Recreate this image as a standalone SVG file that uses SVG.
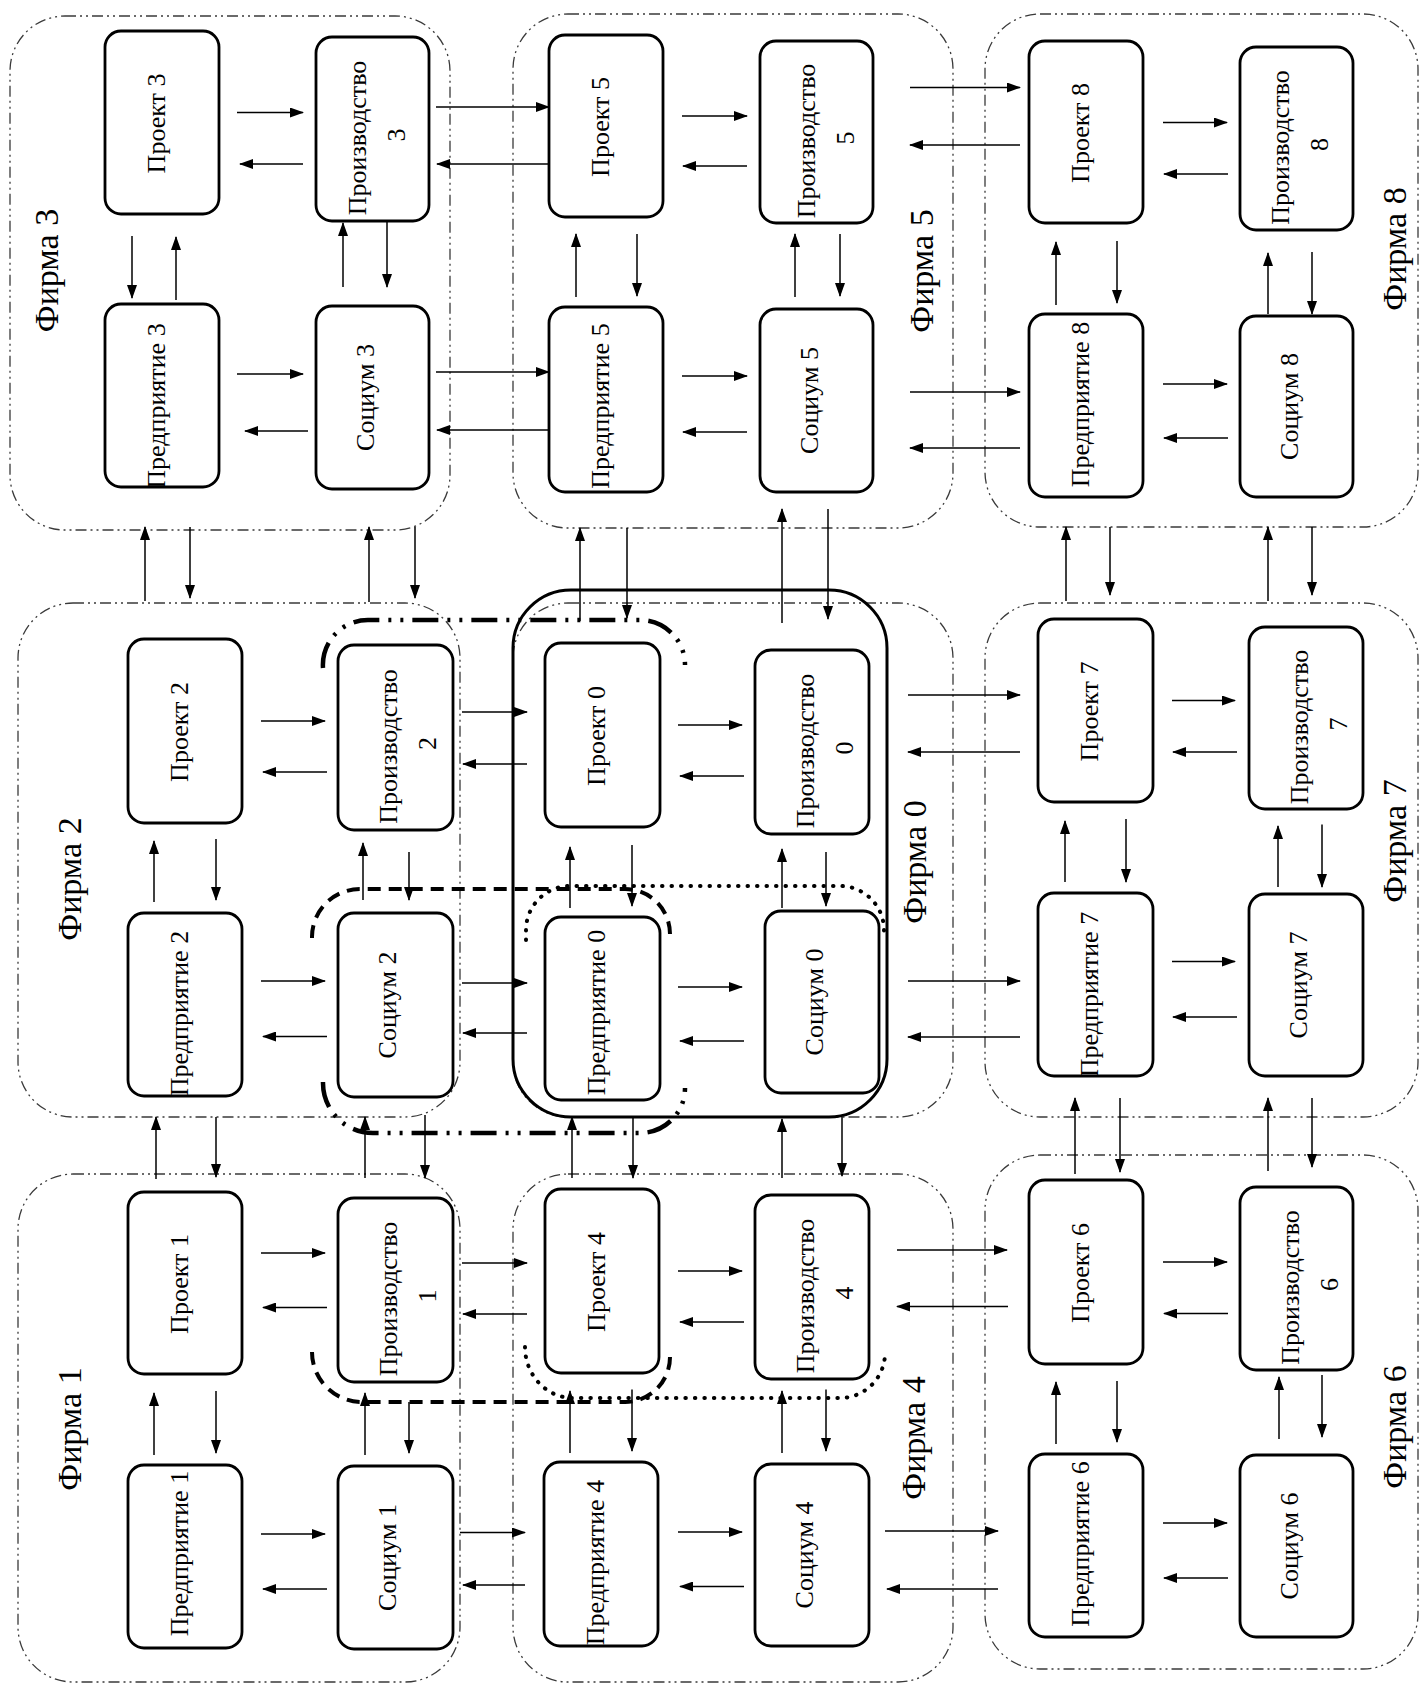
<svg xmlns="http://www.w3.org/2000/svg" width="1420" height="1684" viewBox="0 0 1420 1684">
<defs>
<style>
.firm{fill:none;stroke:#3a3a3a;stroke-width:1.3;stroke-dasharray:11 4 2 4 2 4}
.node rect{fill:#fff;stroke:#000;stroke-width:2.8}
.t{font-family:"Liberation Serif","Times New Roman",serif;font-size:26px;fill:#000;text-anchor:middle}
.ft{font-family:"Liberation Serif","Times New Roman",serif;font-size:34px;fill:#000;text-anchor:middle}
.c line{stroke:#000;stroke-width:1.5;marker-end:url(#ah)}
.thick{fill:none;stroke:#000;stroke-width:3}
.ddot{fill:none;stroke:#000;stroke-width:4.5;stroke-dasharray:26 9 3 9 3 9}
.ldash{fill:none;stroke:#000;stroke-width:4;stroke-dasharray:13 8}
.dots{fill:none;stroke:#000;stroke-width:4;stroke-dasharray:0.5 9;stroke-linecap:round}
</style>
<marker id="ah" markerWidth="14" markerHeight="10" refX="13" refY="5" orient="auto" markerUnits="userSpaceOnUse"><path d="M0,0 L14,5 L0,10 z" fill="#000"/></marker>
</defs>
<rect width="1420" height="1684" fill="#fff"/>

<g id="firms">
<g id="firm3"><rect class="firm" x="10" y="16" width="440" height="514" rx="55"/><text class="ft" transform="translate(58,270.5) rotate(-90)">Фирма 3</text></g>
<g id="firm5"><rect class="firm" x="513" y="14" width="440" height="514" rx="55"/><text class="ft" transform="translate(933,271) rotate(-90)">Фирма 5</text></g>
<g id="firm8"><rect class="firm" x="985" y="14" width="433" height="513" rx="55"/><text class="ft" transform="translate(1406,249) rotate(-90)">Фирма 8</text></g>
<g id="firm2"><rect class="firm" x="18" y="603" width="442" height="514" rx="55"/><text class="ft" transform="translate(81,879) rotate(-90)">Фирма 2</text></g>
<g id="firm0"><rect class="firm" x="513" y="603" width="440" height="514" rx="55"/><rect class="thick" x="513" y="590" width="374" height="527" rx="58"/><text class="ft" transform="translate(926,862) rotate(-90)">Фирма 0</text></g>
<g id="firm7"><rect class="firm" x="985" y="603" width="433" height="514" rx="55"/><text class="ft" transform="translate(1406,841) rotate(-90)">Фирма 7</text></g>
<g id="firm1"><rect class="firm" x="18" y="1174" width="442" height="508" rx="55"/><text class="ft" transform="translate(81,1429) rotate(-90)">Фирма 1</text></g>
<g id="firm4"><rect class="firm" x="513" y="1174" width="440" height="508" rx="55"/><text class="ft" transform="translate(925,1438) rotate(-90)">Фирма 4</text></g>
<g id="firm6"><rect class="firm" x="985" y="1155" width="433" height="514" rx="55"/><text class="ft" transform="translate(1406,1427) rotate(-90)">Фирма 6</text></g>
</g>

<g id="groupings">
<path class="ddot" d="M323,668 A45,45 0 0 1 368,620 H640 A45,45 0 0 1 685,665"/>
<path class="ldash" d="M312,938 A48,48 0 0 1 360,889 H625 A45,45 0 0 1 670,934"/>
<path class="ddot" d="M323,1082 A50,50 0 0 0 373,1133 H640 A45,45 0 0 0 685,1088"/>
<path class="ldash" d="M312,1352 A50,50 0 0 0 362,1402 H625 A45,45 0 0 0 670,1357"/>
<path class="dots" d="M526,940 V930 A44,44 0 0 1 570,886 H840 A44,44 0 0 1 884,930 V936"/>
<path class="dots" d="M525,1347 A48,51 0 0 0 573,1398 H840 A45,45 0 0 0 885,1352"/>
</g>

<g id="nodes">
<g id="proekt3" class="node"><rect x="105" y="31" width="114" height="183" rx="16"/><text class="t" transform="translate(164.5,123.5) rotate(-90)">Проект 3</text></g>
<g id="proizv3" class="node"><rect x="316" y="37" width="113" height="184" rx="16"/><text class="t" transform="translate(366,138) rotate(-90)"><tspan x="0" y="0">Производство</tspan><tspan x="3" y="39">3</tspan></text></g>
<g id="predpr3" class="node"><rect x="105" y="304" width="114" height="183" rx="16"/><text class="t" transform="translate(164.5,406) rotate(-90)">Предприятие 3</text></g>
<g id="socium3" class="node"><rect x="316" y="306" width="113" height="183" rx="16"/><text class="t" transform="translate(374,397.5) rotate(-90)">Социум 3</text></g>

<g id="proekt5" class="node"><rect x="549" y="35" width="114" height="182" rx="16"/><text class="t" transform="translate(608.5,127) rotate(-90)">Проект 5</text></g>
<g id="proizv5" class="node"><rect x="760" y="41" width="113" height="182" rx="16"/><text class="t" transform="translate(815,141) rotate(-90)"><tspan x="0" y="0">Производство</tspan><tspan x="3" y="39">5</tspan></text></g>
<g id="predpr5" class="node"><rect x="549" y="307" width="114" height="185" rx="16"/><text class="t" transform="translate(608.5,406) rotate(-90)">Предприятие 5</text></g>
<g id="socium5" class="node"><rect x="760" y="309" width="113" height="183" rx="16"/><text class="t" transform="translate(818,400.5) rotate(-90)">Социум 5</text></g>

<g id="proekt8" class="node"><rect x="1029" y="41" width="114" height="182" rx="16"/><text class="t" transform="translate(1088.5,133) rotate(-90)">Проект 8</text></g>
<g id="proizv8" class="node"><rect x="1240" y="47" width="113" height="183" rx="16"/><text class="t" transform="translate(1289,147.5) rotate(-90)"><tspan x="0" y="0">Производство</tspan><tspan x="3" y="39">8</tspan></text></g>
<g id="predpr8" class="node"><rect x="1029" y="314" width="114" height="183" rx="16"/><text class="t" transform="translate(1088.5,404.5) rotate(-90)">Предприятие 8</text></g>
<g id="socium8" class="node"><rect x="1240" y="316" width="113" height="181" rx="16"/><text class="t" transform="translate(1298,406.5) rotate(-90)">Социум 8</text></g>

<g id="proekt2" class="node"><rect x="128" y="639" width="114" height="184" rx="16"/><text class="t" transform="translate(187.5,732) rotate(-90)">Проект 2</text></g>
<g id="proizv2" class="node"><rect x="338" y="645" width="115" height="185" rx="16"/><text class="t" transform="translate(397,746.5) rotate(-90)"><tspan x="0" y="0">Производство</tspan><tspan x="3" y="39">2</tspan></text></g>
<g id="predpr2" class="node"><rect x="128" y="913" width="114" height="183" rx="16"/><text class="t" transform="translate(187.5,1013.5) rotate(-90)">Предприятие 2</text></g>
<g id="socium2" class="node"><rect x="338" y="913" width="115" height="184" rx="16"/><text class="t" transform="translate(396,1005) rotate(-90)">Социум 2</text></g>

<g id="proekt0" class="node"><rect x="545" y="643" width="115" height="184" rx="16"/><text class="t" transform="translate(604.5,736) rotate(-90)">Проект 0</text></g>
<g id="proizv0" class="node"><rect x="755" y="650" width="114" height="184" rx="16"/><text class="t" transform="translate(814,751) rotate(-90)"><tspan x="0" y="0">Производство</tspan><tspan x="3" y="39">0</tspan></text></g>
<g id="predpr0" class="node"><rect x="545" y="917" width="115" height="183" rx="16"/><text class="t" transform="translate(604.5,1012.5) rotate(-90)">Предприятие 0</text></g>
<g id="socium0" class="node"><rect x="765" y="911" width="114" height="182" rx="16"/><text class="t" transform="translate(823,1002) rotate(-90)">Социум 0</text></g>

<g id="proekt7" class="node"><rect x="1038" y="619" width="115" height="183" rx="16"/><text class="t" transform="translate(1097.5,711.5) rotate(-90)">Проект 7</text></g>
<g id="proizv7" class="node"><rect x="1249" y="627" width="114" height="182" rx="16"/><text class="t" transform="translate(1308,727) rotate(-90)"><tspan x="0" y="0">Производство</tspan><tspan x="3" y="39">7</tspan></text></g>
<g id="predpr7" class="node"><rect x="1038" y="893" width="115" height="183" rx="16"/><text class="t" transform="translate(1097.5,994.5) rotate(-90)">Предприятие 7</text></g>
<g id="socium7" class="node"><rect x="1249" y="894" width="114" height="182" rx="16"/><text class="t" transform="translate(1307,985) rotate(-90)">Социум 7</text></g>

<g id="proekt1" class="node"><rect x="128" y="1192" width="114" height="182" rx="16"/><text class="t" transform="translate(187.5,1284) rotate(-90)">Проект 1</text></g>
<g id="proizv1" class="node"><rect x="338" y="1198" width="115" height="184" rx="16"/><text class="t" transform="translate(397,1299) rotate(-90)"><tspan x="0" y="0">Производство</tspan><tspan x="3" y="39">1</tspan></text></g>
<g id="predpr1" class="node"><rect x="128" y="1465" width="114" height="183" rx="16"/><text class="t" transform="translate(187.5,1553.5) rotate(-90)">Предприятие 1</text></g>
<g id="socium1" class="node"><rect x="338" y="1466" width="115" height="183" rx="16"/><text class="t" transform="translate(396,1557.5) rotate(-90)">Социум 1</text></g>

<g id="proekt4" class="node"><rect x="545" y="1189" width="114" height="184" rx="16"/><text class="t" transform="translate(604.5,1282) rotate(-90)">Проект 4</text></g>
<g id="proizv4" class="node"><rect x="755" y="1195" width="114" height="184" rx="16"/><text class="t" transform="translate(814,1296) rotate(-90)"><tspan x="0" y="0">Производство</tspan><tspan x="3" y="39">4</tspan></text></g>
<g id="predpr4" class="node"><rect x="544" y="1462" width="114" height="184" rx="16"/><text class="t" transform="translate(603.5,1562.5) rotate(-90)">Предприятие 4</text></g>
<g id="socium4" class="node"><rect x="755" y="1464" width="114" height="182" rx="16"/><text class="t" transform="translate(813,1555) rotate(-90)">Социум 4</text></g>

<g id="proekt6" class="node"><rect x="1029" y="1180" width="114" height="184" rx="16"/><text class="t" transform="translate(1088.5,1273) rotate(-90)">Проект 6</text></g>
<g id="proizv6" class="node"><rect x="1240" y="1187" width="113" height="183" rx="16"/><text class="t" transform="translate(1299,1287.5) rotate(-90)"><tspan x="0" y="0">Производство</tspan><tspan x="3" y="39">6</tspan></text></g>
<g id="predpr6" class="node"><rect x="1029" y="1454" width="114" height="183" rx="16"/><text class="t" transform="translate(1088.5,1544) rotate(-90)">Предприятие 6</text></g>
<g id="socium6" class="node"><rect x="1240" y="1455" width="113" height="182" rx="16"/><text class="t" transform="translate(1298,1546) rotate(-90)">Социум 6</text></g>
</g>

<g id="connectors" class="c">
<line x1="237" y1="112.5" x2="303" y2="112.5"/><line x1="303" y1="164" x2="240" y2="164"/>
<line x1="237" y1="374" x2="303" y2="374"/><line x1="308" y1="431" x2="245" y2="431"/>
<line x1="132" y1="236" x2="132" y2="298"/><line x1="176" y1="300" x2="176" y2="237"/>
<line x1="343" y1="287" x2="343" y2="223"/><line x1="387" y1="221" x2="387" y2="287"/>
<line x1="682" y1="116" x2="747" y2="116"/><line x1="747" y1="166" x2="683" y2="166"/>
<line x1="682" y1="376" x2="747" y2="376"/><line x1="747" y1="432" x2="683" y2="432"/>
<line x1="576" y1="297" x2="576" y2="234"/><line x1="637" y1="234" x2="637" y2="296"/>
<line x1="795" y1="297" x2="795" y2="234"/><line x1="840" y1="234" x2="840" y2="296"/>
<line x1="1163" y1="122.5" x2="1227" y2="122.5"/><line x1="1228" y1="174" x2="1164" y2="174"/>
<line x1="1163" y1="384" x2="1227" y2="384"/><line x1="1228" y1="438" x2="1164" y2="438"/>
<line x1="1056" y1="305" x2="1056" y2="242"/><line x1="1117" y1="241" x2="1117" y2="303"/>
<line x1="1268" y1="314" x2="1268" y2="253"/><line x1="1312" y1="252" x2="1312" y2="314"/>
<line x1="261" y1="721" x2="325" y2="721"/><line x1="327" y1="772" x2="263" y2="772"/>
<line x1="261" y1="981" x2="325" y2="981"/><line x1="327" y1="1036.5" x2="263" y2="1036.5"/>
<line x1="154" y1="902" x2="154" y2="841"/><line x1="216" y1="839" x2="216" y2="900"/>
<line x1="363" y1="900" x2="363" y2="843"/><line x1="409" y1="852" x2="409" y2="900"/>
<line x1="678" y1="725" x2="742" y2="725"/><line x1="744" y1="776" x2="680" y2="776"/>
<line x1="678" y1="987" x2="742" y2="987"/><line x1="744" y1="1041" x2="680" y2="1041"/>
<line x1="570" y1="908" x2="570" y2="847"/><line x1="632" y1="845" x2="632" y2="906"/>
<line x1="782" y1="908" x2="782" y2="849"/><line x1="826" y1="852" x2="826" y2="906"/>
<line x1="1172" y1="700.5" x2="1235" y2="700.5"/><line x1="1237" y1="752" x2="1173" y2="752"/>
<line x1="1172" y1="961.5" x2="1235" y2="961.5"/><line x1="1237" y1="1017" x2="1173" y2="1017"/>
<line x1="1065" y1="882" x2="1065" y2="821"/><line x1="1126" y1="819" x2="1126" y2="882"/>
<line x1="1278" y1="887" x2="1278" y2="826"/><line x1="1322" y1="824.5" x2="1322" y2="887"/>
<line x1="261" y1="1253" x2="325" y2="1253"/><line x1="327" y1="1307.5" x2="263" y2="1307.5"/>
<line x1="261" y1="1534" x2="325" y2="1534"/><line x1="327" y1="1589" x2="263" y2="1589"/>
<line x1="154" y1="1455" x2="154" y2="1393"/><line x1="216" y1="1391" x2="216" y2="1453"/>
<line x1="365" y1="1455" x2="365" y2="1393"/><line x1="409" y1="1402" x2="409" y2="1453"/>
<line x1="678" y1="1271" x2="742" y2="1271"/><line x1="744" y1="1322" x2="680" y2="1322"/>
<line x1="678" y1="1532" x2="742" y2="1532"/><line x1="744" y1="1586.5" x2="680" y2="1586.5"/>
<line x1="570" y1="1453" x2="570" y2="1391"/><line x1="632" y1="1389.5" x2="632" y2="1451"/>
<line x1="782" y1="1453" x2="782" y2="1391"/><line x1="826" y1="1389.5" x2="826" y2="1451"/>
<line x1="1163" y1="1262" x2="1227" y2="1262"/><line x1="1228" y1="1313.5" x2="1164" y2="1313.5"/>
<line x1="1163" y1="1523" x2="1227" y2="1523"/><line x1="1228" y1="1578" x2="1164" y2="1578"/>
<line x1="1056" y1="1444" x2="1056" y2="1382"/><line x1="1117" y1="1381" x2="1117" y2="1442"/>
<line x1="1279" y1="1439" x2="1279" y2="1377"/><line x1="1322" y1="1375" x2="1322" y2="1437"/>
<line x1="436" y1="107" x2="549" y2="107"/><line x1="549" y1="164" x2="437" y2="164"/>
<line x1="436" y1="372" x2="549" y2="372"/><line x1="549" y1="430" x2="437" y2="430"/>
<line x1="910" y1="87.5" x2="1020" y2="87.5"/><line x1="1020" y1="145" x2="910" y2="145"/>
<line x1="910" y1="392" x2="1020" y2="392"/><line x1="1020" y1="448" x2="910" y2="448"/>
<line x1="462" y1="712" x2="527" y2="712"/><line x1="527" y1="764" x2="463" y2="764"/>
<line x1="462" y1="983" x2="527" y2="983"/><line x1="527" y1="1033" x2="463" y2="1033"/>
<line x1="908" y1="695" x2="1020" y2="695"/><line x1="1020" y1="752" x2="908" y2="752"/>
<line x1="908" y1="981" x2="1020" y2="981"/><line x1="1020" y1="1037" x2="908" y2="1037"/>
<line x1="462" y1="1263" x2="527" y2="1263"/><line x1="527" y1="1314" x2="463" y2="1314"/>
<line x1="460" y1="1532.5" x2="525" y2="1532.5"/><line x1="525" y1="1585" x2="463" y2="1585"/>
<line x1="897" y1="1250" x2="1007" y2="1250"/><line x1="1008" y1="1306.5" x2="897" y2="1306.5"/>
<line x1="885" y1="1531" x2="998" y2="1531"/><line x1="998" y1="1589" x2="887" y2="1589"/>
<line x1="145" y1="601" x2="145" y2="527"/><line x1="190" y1="527" x2="190" y2="598"/>
<line x1="369" y1="602" x2="369" y2="527"/><line x1="415" y1="527" x2="415" y2="598"/>
<line x1="580" y1="621" x2="580" y2="528"/><line x1="627" y1="528" x2="627" y2="618"/>
<line x1="782" y1="623" x2="782" y2="509"/><line x1="828" y1="509" x2="828" y2="619"/>
<line x1="1066" y1="601" x2="1066" y2="527"/><line x1="1110" y1="527" x2="1110" y2="595"/>
<line x1="1268" y1="601" x2="1268" y2="527"/><line x1="1312" y1="527" x2="1312" y2="595"/>
<line x1="156" y1="1179" x2="156" y2="1117"/><line x1="216" y1="1117" x2="216" y2="1177"/>
<line x1="365" y1="1178" x2="365" y2="1117"/><line x1="425" y1="1115" x2="425" y2="1178"/>
<line x1="572" y1="1178" x2="572" y2="1117"/><line x1="633" y1="1116" x2="633" y2="1178"/>
<line x1="782" y1="1178" x2="782" y2="1119"/><line x1="842" y1="1117" x2="842" y2="1176"/>
<line x1="1075" y1="1174" x2="1075" y2="1098"/><line x1="1120" y1="1098" x2="1120" y2="1172"/>
<line x1="1268" y1="1171" x2="1268" y2="1098"/><line x1="1312" y1="1098" x2="1312" y2="1167"/>
</g>
</svg>
